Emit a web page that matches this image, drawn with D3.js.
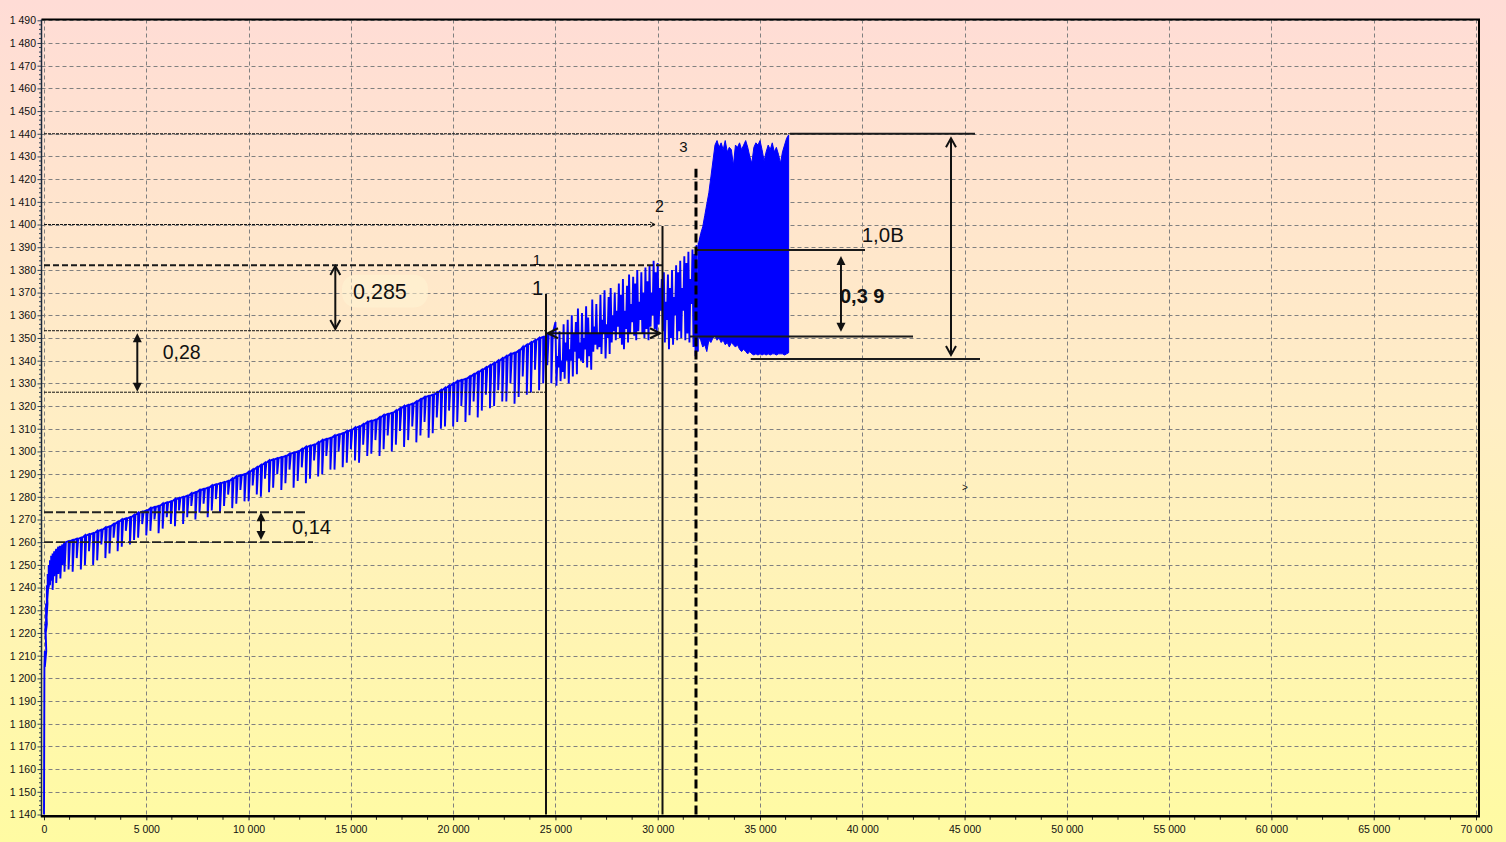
<!DOCTYPE html>
<html><head><meta charset="utf-8">
<script src="https://cdn.jsdelivr.net/npm/d3@7"></script>
<style>html,body{margin:0;padding:0;overflow:hidden;background:#fff}svg{display:block}</style>
</head><body><svg id="c" width="1506" height="842"></svg>
<script>
// ---------------- DATA ----------------
const xTicks = [0,5000,10000,15000,20000,25000,30000,35000,40000,45000,50000,55000,60000,65000,70000];
const yTicks = [1140,1150,1160,1170,1180,1190,1200,1210,1220,1230,1240,1250,1260,1270,1280,1290,1300,1310,1320,1330,1340,1350,1360,1370,1380,1390,1400,1410,1420,1430,1440,1450,1460,1470,1480,1490];

// ramp part: baseline (top) with downward spikes (low)
const rampX = [0,20,40,70,100,140,180,230,290,350,420,500,600,700,800,900,1000,
 1200,1400,1600,1800,2000,2200,2400,2600,2800,3000,3200,3400,3600,3800,4000,4200,4400,4600,4800,
 5000,5200,5400,5600,5800,6000,6200,6400,6600,6800,7000,7200,7400,7600,7800,8000,8200,8400,8600,8800,
 9000,9200,9400,9600,9800,10000,10200,10400,10600,10800,11000,11200,11400,11600,11800,12000,12200,12400,12600,12800,
 13000,13200,13400,13600,13800,14000,14200,14400,14600,14800,15000,15200,15400,15600,15800,16000,16200,16400,16600,16800,
 17000,17200,17400,17600,17800,18000,18200,18400,18600,18800,19000,19200,19400,19600,19800,20000,20200,20400,20600,20800,
 21000,21200,21400,21600,21800,22000,22200,22400,22600,22800,23000,23200,23400,23600,23800,24000,24200,24400,24600,24800];
const rampTop = [1140,1205,1212,1224,1233,1241,1246,1250,1252,1254,1255,1256,1257,1258,1258,1259,1260,
 1260.5,1261,1261.5,1262,1263,1263.5,1264,1265,1265.5,1266.5,1267,1268,1269,1270,1270.5,1271,1272,1273,1273.5,
 1274,1275,1275.5,1276,1277,1277.5,1278,1279,1279.5,1280,1280.5,1281.5,1282,1283,1283.5,1284,1285,1285.5,1286,1286.5,
 1287,1288,1289,1289.5,1290,1291,1292,1293,1294,1295,1296,1296.5,1297,1297.5,1298,1299,1299.5,1300,1301,1302,
 1302.5,1303,1304,1305,1305.5,1306,1307,1307.5,1308,1309,1309.5,1310.5,1311,1312,1313,1313.5,1314,1315,1316,1316.5,
 1317,1318,1319,1320,1320.5,1321,1322,1323,1324,1324.5,1325,1326,1327,1328,1329,1330,1331,1331.5,1332,1333,
 1334,1335,1336,1337,1338,1339,1340,1341,1342,1343,1343.5,1344.5,1346,1347,1348,1349,1350,1350.5,1351.5,1352];
const rampLow = [1140,1205,1205,1219,1223,1232,1238,1240,1241,1243,1239,1245,1242,1246,1244,1250,1247,
 1248,1247,1253,1248,1250,1256,1250,1252,1259,1253,1255,1262,1256,1258,1265,1259,1261,1262,1268,
 1263,1265,1270,1264,1266,1271,1268,1267,1274,1268,1271,1276,1270,1273,1277,1271,1274,1279,1273,1276,
 1281,1275,1277,1283,1278,1278,1285,1281,1280,1288,1282,1284,1290,1283,1286,1292,1284,1287,1293,1286,
 1288,1296,1289,1290,1298,1292,1292,1300,1293,1295,1301,1296,1295,1303,1298,1299,1305,1298,1301,1307,
 1300,1303,1309,1302,1305,1311,1304,1307,1313,1306,1308,1315,1310,1311,1318,1311,1313,1320,1313,1316,
 1322,1315,1318,1325,1319,1320,1327,1322,1322,1330,1321,1324,1333,1325,1326,1336,1327,1330,1338,1330];

// noisy part (oscillating band)
const noisyX = [25000,25100,25200,25300,25400,25500,25600,25700,25800,25900,
 26000,26100,26200,26300,26400,26500,26600,26700,26800,26900,
 27000,27100,27200,27300,27400,27500,27600,27700,27800,27900,
 28000,28100,28200,28300,28400,28500,28600,28700,28800,28900,
 29000,29100,29200,29300,29400,29500,29600,29700,29800,29900,
 30000,30100,30200,30300,30400,30500,30600,30700,30800,30900,
 31000,31100,31200,31300,31400,31500,31600,31700,31800,31900];
const noisyHi = [1357,1342,1353,1340,1356,1348,1358,1345,1360,1352,
 1357,1363,1348,1361,1350,1364,1359,1352,1367,1355,
 1365,1352,1369,1358,1371,1356,1368,1372,1360,1370,
 1362,1374,1369,1376,1362,1373,1378,1365,1377,1374,
 1380,1366,1379,1370,1381,1375,1382,1370,1384,1379,
 1383,1372,1376,1379,1366,1378,1372,1380,1368,1382,
 1379,1384,1372,1386,1383,1388,1376,1389,1387,1391];
const noisyLo = [1329,1337,1331,1335,1332,1340,1330,1340,1333,1344,
 1334,1341,1340,1339,1345,1337,1342,1336,1344,1347,
 1345,1346,1343,1352,1341,1350,1343,1348,1353,1349,
 1355,1350,1347,1345,1354,1348,1352,1357,1351,1349,
 1353,1358,1352,1350,1354,1349,1355,1360,1354,1352,
 1356,1362,1353,1348,1358,1345,1350,1347,1360,1349,
 1353,1350,1362,1349,1352,1348,1365,1346,1342,1344];

// saturated block
const blockX = [32000,32100,32200,32300,32400,32500,32600,32700,32800,32900,33000,33100,33200,33300,33400,33500,
 33600,33700,33800,33900,34000,34100,34200,34300,34400,34500,34600,34700,34800,34900,35000,35100,
 35200,35300,35400,35500,35600,35700,35800,35900,36000,36100,36200,36300,36400];
const blockTop = [1392,1396,1399,1404,1409,1414,1421,1428,1435,1437,1434,1436,1433,1437,1432,1434,
 1433,1426,1435,1434,1436,1433,1435,1437,1434,1430,1427,1434,1436,1435,1437,1433,
 1428,1432,1435,1433,1436,1432,1434,1431,1427,1432,1435,1438,1439.5];
const blockBot = [1351,1349,1346,1347,1344,1349,1348,1350,1351,1349,1350,1348,1349,1347,1348,1346,
 1348,1347,1346,1347,1345,1344,1345,1344,1343,1344,1343,1342.5,1343,1342.5,1343,1342.5,
 1343,1342.5,1343,1342.5,1343,1343,1342.5,1343,1343,1343,1342.5,1343,1343.5];

// annotations (data units): [xStart, xEnd, level]
const fineDotted = [[0,36466,1440],[0,29870,1400],[0,24490,1353.2],[0,24490,1326.1]];
const boldDashed = [[0,30210,1382]];
const mediumDashed = [[0,12905,1273.2],[0,13150,1260]];
const solidLevels = [[36466,45510,1440],[31920,40133,1388.8],[31578,42480,1350.6],[34546,45754,1340.7]];
// verticals: [x, vFrom, vTo]
const solidVerticals = [[24539,1140,1369.4],[30234,1140,1399.4]];
const dashedVerticals = [[31871,1140,1424.6]];
// double arrows: [x, vTop, vBottom]
const filledArrows = [[4561,1352.1,1326.3],[10608,1273.2,1261],[38958,1386.1,1352.8]];
const openArrows = [[14240,1381.7,1354],[44336,1438,1342.5]];
const horizArrows = [[24637,30112,1352.1]];
// labels
const labelText = ["1","1","2","3","0,28","0,285","0,14","1,0B","0,3 9",">"];
const labelX    = [24099,24124,30087,31260,5802,15105,12123,39972,38910,44875];
const labelV    = [1382.2,1368.9,1405.5,1432,1340.7,1367.2,1263.6,1392.4,1365.4,1282.6];
const labelBlob = [14567,18771,1377.9,1363.4];

// ---------------- DRAW ----------------
const W = 1506, H = 842;
const svg = d3.select("#c");
const x = d3.scaleLinear().domain([0,70000]).range([44,1476]);
const y = d3.scaleLinear().domain([1140,1490]).range([814.5,20.3]);
const fmt = d3.formatLocale({decimal:",", thousands:" ", grouping:[3], currency:["",""]}).format(",");
const FONT = "'Liberation Sans', Arial, sans-serif";
const pLeft = 41.5, pRight = 1479, pTop = 19.5, pBottom = 816.3;

const defs = svg.append("defs");
const grad = defs.append("linearGradient").attr("id","bg").attr("x1",0).attr("y1",0).attr("x2",0).attr("y2",1);
grad.append("stop").attr("offset","0%").attr("stop-color","#FFDCD6");
grad.append("stop").attr("offset","50%").attr("stop-color","#FFEEC4");
grad.append("stop").attr("offset","100%").attr("stop-color","#FFFBA2");
svg.append("rect").attr("width",W).attr("height",H).attr("fill","url(#bg)");

// grid
const grid = svg.append("g").attr("stroke","#808080").attr("stroke-width",1).attr("stroke-dasharray","4,3").attr("fill","none");
grid.selectAll("line.v").data(xTicks).join("line")
  .attr("x1",d=>Math.round(x(d))+0.5).attr("x2",d=>Math.round(x(d))+0.5)
  .attr("y1",pTop).attr("y2",pBottom);
grid.selectAll("line.h").data(yTicks).join("line")
  .attr("y1",d=>Math.round(y(d))+0.5).attr("y2",d=>Math.round(y(d))+0.5)
  .attr("x1",pLeft).attr("x2",pRight);

// blob behind 0,285
svg.append("rect").attr("x",x(labelBlob[0])).attr("y",y(labelBlob[2]))
  .attr("width",x(labelBlob[1])-x(labelBlob[0])).attr("height",y(labelBlob[3])-y(labelBlob[2]))
  .attr("rx",14).attr("fill","#FFF4D4").attr("opacity",0.55);

// signal
const spikeW = 70; // horizontal width of a dip, in x units
const pts = [];
rampX.forEach((xv,i)=>{
  pts.push([xv, rampTop[i]]);
  if (rampLow[i] < rampTop[i]) { pts.push([xv, rampLow[i]]); pts.push([xv+spikeW, rampTop[i]]); }
});
noisyX.forEach((xv,i)=>{
  const step = i < noisyX.length-1 ? noisyX[i+1]-xv : xv-noisyX[i-1];
  pts.push([xv, noisyHi[i]]);
  pts.push([xv+step/2, noisyLo[i]]);
});
const line = d3.line().x(d=>x(d[0])).y(d=>y(d[1]));
svg.append("path").attr("d",line(pts)).attr("fill","none").attr("stroke","#0000ff").attr("stroke-width",1.9);

const blk = blockX.map((xv,i)=>[xv, blockTop[i], blockBot[i]]);
const area = d3.area().x(d=>x(d[0])).y0(d=>y(d[2])).y1(d=>y(d[1]));
const lastNX = noisyX[noisyX.length-1] + (noisyX[1]-noisyX[0])/2;
const bridge = [[lastNX, noisyLo[noisyLo.length-1]],[blockX[0], blockTop[0]],[blockX[0], blockBot[0]]];
svg.append("path").attr("d",line(bridge)).attr("fill","none").attr("stroke","#0000ff").attr("stroke-width",1.9);
svg.append("path").attr("d",area(blk)).attr("fill","#0000ff").attr("stroke","#0000ff").attr("stroke-width",1);

// annotations
const ann = svg.append("g");
function hline(arr, stroke, sw, dash){
  ann.selectAll(null).data(arr).join("line")
    .attr("x1",d=>x(d[0])).attr("x2",d=>x(d[1]))
    .attr("y1",d=>y(d[2])).attr("y2",d=>y(d[2]))
    .attr("stroke",stroke).attr("stroke-width",sw).attr("stroke-dasharray",dash);
}
hline(fineDotted,"#111",1,"3,1");
hline(boldDashed,"#1a1a1a",2,"6,3");
hline(mediumDashed,"#222",1.8,"9,3");
hline(solidLevels,"#1a1a1a",2,null);
function vline(arr, stroke, sw, dash){
  ann.selectAll(null).data(arr).join("line")
    .attr("x1",d=>x(d[0])).attr("x2",d=>x(d[0]))
    .attr("y1",d=>y(d[1])).attr("y2",d=>y(d[2]))
    .attr("stroke",stroke).attr("stroke-width",sw).attr("stroke-dasharray",dash);
}
vline(solidVerticals,"#111",2,null);
vline(dashedVerticals,"#000",3,"9,4");

function head(tx,ty,dx,dy,len,half,filled,sw){
  const bx = tx-dx*len, by = ty-dy*len, px=-dy, py=dx;
  const p1=[bx+px*half,by+py*half], p2=[bx-px*half,by-py*half];
  if (filled) ann.append("path").attr("d",`M${tx},${ty}L${p1}L${p2}Z`).attr("fill","#111");
  else ann.append("path").attr("d",`M${p1}L${tx},${ty}L${p2}`).attr("fill","none").attr("stroke","#111").attr("stroke-width",sw);
}
filledArrows.forEach(a=>{
  const X=x(a[0]), Y1=y(a[1]), Y2=y(a[2]);
  ann.append("line").attr("x1",X).attr("x2",X).attr("y1",Y1+7).attr("y2",Y2-7).attr("stroke","#111").attr("stroke-width",2);
  head(X,Y1,0,-1,9,4.5,true); head(X,Y2,0,1,9,4.5,true);
});
openArrows.forEach(a=>{
  const X=x(a[0]), Y1=y(a[1]), Y2=y(a[2]);
  ann.append("line").attr("x1",X).attr("x2",X).attr("y1",Y1).attr("y2",Y2).attr("stroke","#111").attr("stroke-width",2);
  head(X,Y1,0,-1,9,5,false,2); head(X,Y2,0,1,9,5,false,2);
});
horizArrows.forEach(a=>{
  const X1=x(a[0]), X2=x(a[1]), Y=y(a[2]);
  ann.append("line").attr("x1",X1).attr("x2",X2).attr("y1",Y).attr("y2",Y).attr("stroke","#111").attr("stroke-width",2);
  head(X1,Y,-1,0,10,5,false,2.2); head(X2,Y,1,0,10,5,false,2.2);
});
{ const a = fineDotted[1]; head(x(a[1]),y(a[2]),1,0,5,2.5,false,1); }

// labels
const labelSize = [15,20,16,15,19.5,21.5,20,20.5,20,10];
const labelWeight = ["normal","normal","normal","normal","normal","normal","normal","normal","bold","normal"];
const labelAnchor = ["middle","middle","middle","middle","start","start","start","start","start","start"];
ann.selectAll("text.lbl").data(labelText).join("text").attr("class","lbl")
  .attr("x",(d,i)=>x(labelX[i])).attr("y",(d,i)=>y(labelV[i]))
  .attr("font-family",FONT).attr("font-size",(d,i)=>labelSize[i]).attr("font-weight",(d,i)=>labelWeight[i])
  .attr("text-anchor",(d,i)=>labelAnchor[i]).attr("fill","#111").text(d=>d);

// axes
const yMinor = d3.range(1140,1491,2).filter(v=>v%10!==0);
const xMinor = d3.range(0,70001,1250).filter(v=>v%5000!==0);
const axY = svg.append("g").attr("transform",`translate(${pLeft},0)`)
  .call(d3.axisLeft(y).tickValues(yTicks).tickFormat(fmt).tickSize(4).tickPadding(1.5));
axY.select(".domain").remove();
axY.selectAll("line").attr("stroke","#2d4058");
axY.selectAll("text").attr("font-family",FONT).attr("font-size",10.5).attr("fill","#111");
axY.selectAll("line.mn").data(yMinor).join("line").attr("class","mn")
  .attr("x1",-2.5).attr("x2",0).attr("y1",d=>y(d)).attr("y2",d=>y(d)).attr("stroke","#2d4058");

const axX = svg.append("g").attr("transform",`translate(0,${pBottom})`)
  .call(d3.axisBottom(x).tickValues(xTicks).tickFormat(fmt).tickSize(4).tickPadding(5));
axX.select(".domain").remove();
axX.selectAll("line").attr("stroke","#222");
axX.selectAll("text").attr("font-family",FONT).attr("font-size",10.5).attr("fill","#111");
axX.selectAll("line.mn").data(xMinor).join("line").attr("class","mn")
  .attr("y1",0).attr("y2",3.5).attr("x1",d=>x(d)).attr("x2",d=>x(d)).attr("stroke","#222");

// frame
svg.append("line").attr("x1",pLeft).attr("x2",pRight+1).attr("y1",pTop).attr("y2",pTop).attr("stroke","#000").attr("stroke-width",1.8);
svg.append("line").attr("x1",pRight).attr("x2",pRight).attr("y1",pTop).attr("y2",pBottom).attr("stroke","#000").attr("stroke-width",2);
svg.append("line").attr("x1",pLeft).attr("x2",pLeft).attr("y1",pTop).attr("y2",pBottom).attr("stroke","#1c2a3c").attr("stroke-width",1.5);
svg.append("line").attr("x1",pLeft-0.7).attr("x2",pRight+1).attr("y1",pBottom).attr("y2",pBottom).attr("stroke","#000").attr("stroke-width",2.6);
</script></body></html>
